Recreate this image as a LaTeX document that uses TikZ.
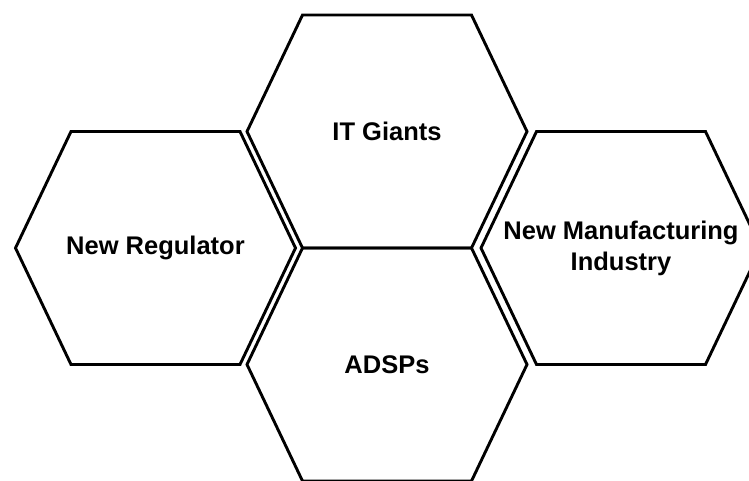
\documentclass[tikz,border=0pt]{standalone}
\usepackage{fontspec}
\setmainfont{Liberation Sans}
\tikzset{
  hx/.style={line width=2.9pt,line join=miter},
  lb/.style={font=\bfseries\fontsize{25.5}{31}\selectfont,align=center,inner sep=0pt}
}
% name, centre x, centre y, label
\newcommand{\hx}[4]{%
  \draw[hx] (#2-140,#3) -- ++(55.5,-116.5) -- ++(169,0) -- ++(55.5,116.5)
    -- ++(-55.5,116.5) -- ++(-169,0) -- cycle;
  \node[lb] (#1) at (#2,#3) {#4};}

\begin{document}
\begin{tikzpicture}[x=1pt,y=-1pt]
\useasboundingbox (0,0) rectangle (749,480);
\clip (0,0) rectangle (749,480);
\hx{itg}{387}{131.5}{IT Giants}
\hx{adsp}{387}{364.5}{ADSPs}
\hx{reg}{155.5}{248}{New Regulator}
\hx{mfg}{621}{248}{New Manufacturing\\Industry}
\end{tikzpicture}
\end{document}
